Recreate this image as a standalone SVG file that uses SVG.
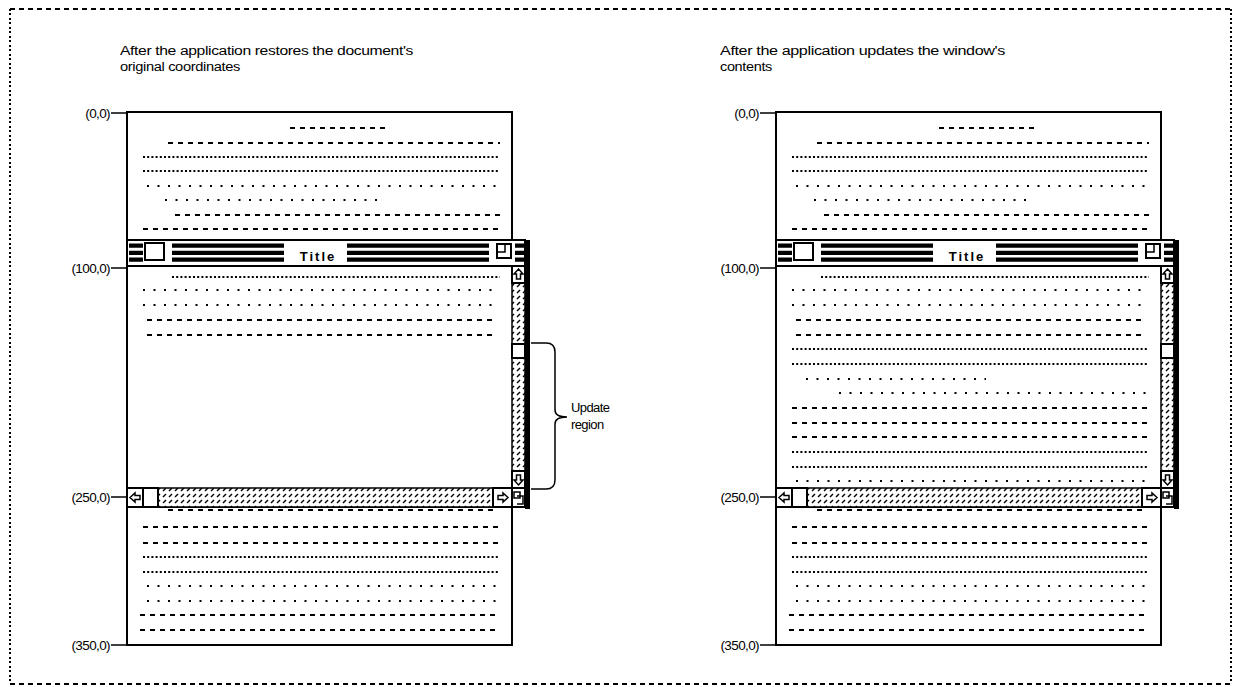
<svg xmlns="http://www.w3.org/2000/svg" xmlns:xlink="http://www.w3.org/1999/xlink" width="1235" height="687" viewBox="0 0 1235 687">
<style>
text{font-family:"Liberation Sans",Arial,sans-serif;fill:#000}
.hdr{font-size:12.5px;letter-spacing:-0.3px}
.lbl{font-size:13.5px;text-anchor:end;letter-spacing:-0.6px}
.title{font-size:13px;font-weight:bold;text-anchor:middle;letter-spacing:2px}
.note{font-size:13px;letter-spacing:-0.6px}
.page{fill:#fff;stroke:#000;stroke-width:2}
.dash{stroke:#000;stroke-width:2;stroke-dasharray:5 5;fill:none}
.dense{stroke:#000;stroke-width:2;stroke-dasharray:2 2.2;fill:none}
.sparse{stroke:#000;stroke-width:2;stroke-dasharray:2 8.5;fill:none}
.tick{stroke:#000;stroke-width:1.5}
.bx{fill:#fff;stroke:#000;stroke-width:2}
.hb{fill:url(#hatch);stroke:#000;stroke-width:1.5}
.ar{fill:none;stroke:#000;stroke-width:1.5}
.stripe{fill:#000}
.frame-h{stroke:#000;stroke-width:2;stroke-dasharray:5 4;fill:none}
.frame-v{stroke:#000;stroke-width:2;stroke-dasharray:2 2 2 3;fill:none}
</style>
<defs>
<pattern id="hatch" width="6" height="6" patternUnits="userSpaceOnUse">
<rect width="6" height="6" fill="#fff"/>
<path d="M1,5 L4,2" stroke="#000" stroke-width="1.4"/>
</pattern>
<g id="chrome">
<rect x="127" y="240" width="398" height="26" class="bx"/>
<path class="stripe" d="M129,243.5h14v4.3h-14z M129,250.8h14v4.3h-14z M129,257.5h14v4.3h-14z M172,243.5h112v4.3h-112z M172,250.8h112v4.3h-112z M172,257.5h112v4.3h-112z M347,243.5h142v4.3h-142z M347,250.8h142v4.3h-142z M347,257.5h142v4.3h-142z M515,243.5h9v4.3h-9z M515,250.8h9v4.3h-9z M515,257.5h9v4.3h-9z"/>
<rect x="145" y="243" width="19" height="17" class="bx"/>
<text class="title" x="318" y="261">Title</text>
<rect x="497" y="244" width="14" height="14" class="bx"/>
<path d="M497,252 H505 V244" class="ar"/>
<rect x="512" y="266" width="13" height="222" class="hb"/>
<rect x="512" y="266" width="13" height="17" class="bx"/>
<path class="ar" d="M518.5,269 L523,274 L520.5,274 L520.5,279 L516.5,279 L516.5,274 L514,274 Z"/>
<rect x="512" y="344" width="13" height="14" class="bx"/>
<rect x="512" y="471" width="13" height="17" class="bx"/>
<path class="ar" d="M518.5,485 L523,480 L520.5,480 L520.5,475 L516.5,475 L516.5,480 L514,480 Z"/>
<rect x="127" y="488" width="385" height="19" class="hb"/>
<rect x="127" y="488" width="16" height="19" class="bx"/>
<path class="ar" d="M130,497.5 L135,493 L135,495.5 L140,495.5 L140,499.5 L135,499.5 L135,502 Z"/>
<rect x="143" y="488" width="15" height="19" class="bx"/>
<rect x="493" y="488" width="19" height="19" class="bx"/>
<path class="ar" d="M508,497.5 L503,493 L503,495.5 L498,495.5 L498,499.5 L503,499.5 L503,502 Z"/>
<rect x="512" y="488" width="13" height="19" class="bx"/>
<path class="ar" d="M514,492 h6 v6 h-6 z M517,496 h6 v8 h-6"/>
<rect x="525" y="240" width="5" height="269" fill="#000"/>
</g>
</defs>

<g id="frame">
<line class="frame-h" x1="10" y1="9" x2="1231" y2="9"/>
<line class="frame-h" x1="10" y1="684" x2="1231" y2="684"/>
<line class="frame-v" x1="10" y1="9" x2="10" y2="684"/>
<line class="frame-v" x1="1231" y1="9" x2="1231" y2="684"/>
</g>

<g id="caption-left">
<text class="hdr" x="120" y="55" textLength="293" lengthAdjust="spacingAndGlyphs">After the application restores the document's</text>
<text class="hdr" x="120" y="71" textLength="120" lengthAdjust="spacingAndGlyphs">original coordinates</text>
</g>
<g id="caption-right">
<text class="hdr" x="720" y="55" textLength="285" lengthAdjust="spacingAndGlyphs">After the application updates the window's</text>
<text class="hdr" x="720" y="71" textLength="52" lengthAdjust="spacingAndGlyphs">contents</text>
</g>

<g id="doc-left">
<rect x="127" y="112" width="385" height="533" class="page"/>
<line class="dash" x1="290" y1="128" x2="387" y2="128"/>
<line class="dash" x1="168" y1="143" x2="500" y2="143"/>
<line class="dense" x1="143" y1="157" x2="500" y2="157"/>
<line class="dense" x1="143" y1="171" x2="500" y2="171"/>
<line class="sparse" x1="147" y1="186" x2="500" y2="186"/>
<line class="sparse" x1="165" y1="200" x2="377" y2="200"/>
<line class="dash" x1="175" y1="215" x2="500" y2="215"/>
<line class="dash" x1="143" y1="229" x2="500" y2="229"/>
<line class="dash" x1="168" y1="510" x2="495" y2="510"/>
<line class="dash" x1="143" y1="527" x2="500" y2="527"/>
<line class="dash" x1="143" y1="543" x2="500" y2="543"/>
<line class="dense" x1="143" y1="557" x2="500" y2="557"/>
<line class="dense" x1="143" y1="572" x2="500" y2="572"/>
<line class="sparse" x1="147" y1="586" x2="500" y2="586"/>
<line class="sparse" x1="147" y1="601" x2="500" y2="601"/>
<line class="dash" x1="140" y1="615" x2="500" y2="615"/>
<line class="dash" x1="140" y1="630" x2="500" y2="630"/>
<g id="window-left">
<rect x="127" y="240" width="398" height="267" class="bx"/>
<line class="dense" x1="172" y1="277" x2="500" y2="277"/>
<line class="sparse" x1="143" y1="290" x2="500" y2="290"/>
<line class="sparse" x1="143" y1="305" x2="500" y2="305"/>
<line class="dash" x1="147" y1="320" x2="497" y2="320"/>
<line class="dash" x1="147" y1="335" x2="497" y2="335"/>
<use xlink:href="#chrome"/>
</g>
</g>

<g id="labels-left">
<text class="lbl" x="110" y="118">(0,0)</text>
<line class="tick" x1="111" y1="113" x2="126" y2="113"/>
<text class="lbl" x="110" y="273">(100,0)</text>
<line class="tick" x1="111" y1="268" x2="126" y2="268"/>
<text class="lbl" x="110" y="502">(250,0)</text>
<line class="tick" x1="111" y1="497" x2="126" y2="497"/>
<text class="lbl" x="110" y="650">(350,0)</text>
<line class="tick" x1="111" y1="645" x2="126" y2="645"/>
</g>

<g id="update-region">
<path d="M531,343 H546 Q555,343 555,352 V410 Q555,417 567,417 Q555,417 555,424 V480 Q555,489 546,489 H531" fill="none" stroke="#000" stroke-width="1.5"/>
<text class="note" x="571" y="412">Update</text>
<text class="note" x="571" y="429">region</text>
</g>

<g id="doc-right" transform="translate(649,0)">
<rect x="127" y="112" width="385" height="533" class="page"/>
<line class="dash" x1="290" y1="128" x2="387" y2="128"/>
<line class="dash" x1="168" y1="143" x2="500" y2="143"/>
<line class="dense" x1="143" y1="157" x2="500" y2="157"/>
<line class="dense" x1="143" y1="171" x2="500" y2="171"/>
<line class="sparse" x1="147" y1="186" x2="500" y2="186"/>
<line class="sparse" x1="165" y1="200" x2="377" y2="200"/>
<line class="dash" x1="175" y1="215" x2="500" y2="215"/>
<line class="dash" x1="143" y1="229" x2="500" y2="229"/>
<line class="dash" x1="168" y1="510" x2="495" y2="510"/>
<line class="dash" x1="143" y1="527" x2="500" y2="527"/>
<line class="dash" x1="143" y1="543" x2="500" y2="543"/>
<line class="dense" x1="143" y1="557" x2="500" y2="557"/>
<line class="dense" x1="143" y1="572" x2="500" y2="572"/>
<line class="sparse" x1="147" y1="586" x2="500" y2="586"/>
<line class="sparse" x1="147" y1="601" x2="500" y2="601"/>
<line class="dash" x1="140" y1="615" x2="500" y2="615"/>
<line class="dash" x1="140" y1="630" x2="500" y2="630"/>
<g id="window-right">
<rect x="127" y="240" width="398" height="267" class="bx"/>
<line class="dense" x1="172" y1="277" x2="500" y2="277"/>
<line class="sparse" x1="143" y1="290" x2="500" y2="290"/>
<line class="sparse" x1="143" y1="305" x2="500" y2="305"/>
<line class="dash" x1="147" y1="320" x2="497" y2="320"/>
<line class="dash" x1="147" y1="335" x2="497" y2="335"/>
<line class="dense" x1="143" y1="349" x2="500" y2="349"/>
<line class="dense" x1="143" y1="364" x2="500" y2="364"/>
<line class="sparse" x1="157" y1="379" x2="337" y2="379"/>
<line class="sparse" x1="190" y1="393" x2="500" y2="393"/>
<line class="dash" x1="143" y1="408" x2="500" y2="408"/>
<line class="dash" x1="143" y1="423" x2="500" y2="423"/>
<line class="dash" x1="143" y1="437" x2="500" y2="437"/>
<line class="dense" x1="143" y1="452" x2="500" y2="452"/>
<line class="dense" x1="143" y1="467" x2="500" y2="467"/>
<line class="sparse" x1="147" y1="481" x2="500" y2="481"/>
<use xlink:href="#chrome"/>
</g>
</g>

<g id="labels-right">
<text class="lbl" x="759" y="118">(0,0)</text>
<line class="tick" x1="760" y1="113" x2="775" y2="113"/>
<text class="lbl" x="759" y="273">(100,0)</text>
<line class="tick" x1="760" y1="268" x2="775" y2="268"/>
<text class="lbl" x="759" y="502">(250,0)</text>
<line class="tick" x1="760" y1="497" x2="775" y2="497"/>
<text class="lbl" x="759" y="650">(350,0)</text>
<line class="tick" x1="760" y1="645" x2="775" y2="645"/>
</g>
</svg>
